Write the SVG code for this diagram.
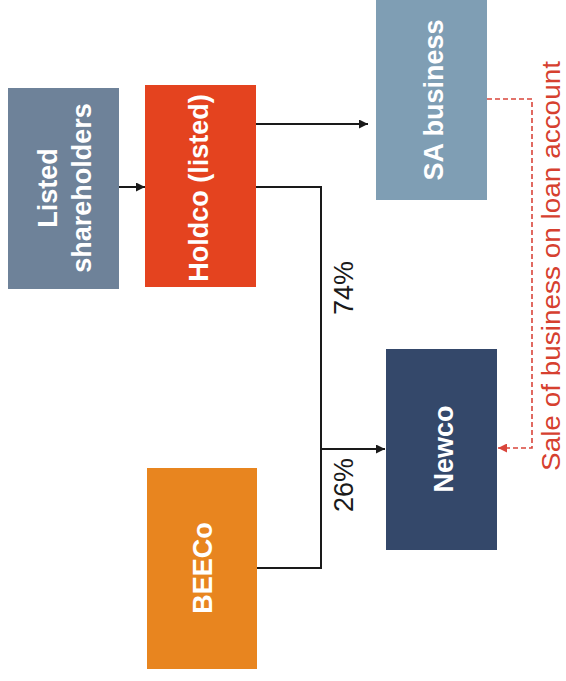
<svg xmlns="http://www.w3.org/2000/svg" width="566" height="681" viewBox="0 0 566 681">
<defs>
<marker id="ab" viewBox="0 0 10 10" refX="10" refY="5" markerWidth="10" markerHeight="9" markerUnits="userSpaceOnUse" orient="auto"><path d="M0,0 L10,5 L0,10 z" fill="#1a1a1a"/></marker>
<marker id="ar" viewBox="0 0 10 10" refX="10" refY="5" markerWidth="9" markerHeight="9" markerUnits="userSpaceOnUse" orient="auto"><path d="M0,0 L10,5 L0,10 z" fill="#d9453b"/></marker>
<style>
.lbl{font-family:"Liberation Sans",Arial,sans-serif;font-weight:bold;font-size:27px;fill:#ffffff;text-anchor:middle}
.pct{font-family:"Liberation Sans",Arial,sans-serif;font-size:27px;fill:#1a1a1a;text-anchor:middle}
.conn{fill:none;stroke:#1a1a1a;stroke-width:2}
.dash{fill:none;stroke:#d9453b;stroke-width:1.6;stroke-dasharray:5,3}
</style>
</defs>
<rect width="566" height="681" fill="#ffffff"/>
<g id="listed-shareholders">
<rect x="8" y="88" width="111" height="201" fill="#6e8299"/>
<text class="lbl" transform="translate(57,188) rotate(-90)">Listed</text>
<text class="lbl" transform="translate(91,188) rotate(-90)">shareholders</text>
</g>
<g id="holdco">
<rect x="145" y="85" width="111" height="202" fill="#e4431f"/>
<text class="lbl" transform="translate(208,188) rotate(-90)">Holdco (listed)</text>
</g>
<g id="sa-business">
<rect x="376" y="0" width="111" height="200" fill="#7f9eb4"/>
<text class="lbl" transform="translate(443,100) rotate(-90)">SA business</text>
</g>
<g id="newco">
<rect x="386" y="349" width="111" height="201" fill="#34486a"/>
<text class="lbl" transform="translate(453,449) rotate(-90)">Newco</text>
</g>
<g id="beeco">
<rect x="147" y="468" width="110" height="201" fill="#e8851f"/>
<text class="lbl" transform="translate(212,568) rotate(-90)">BEECo</text>
</g>
<g id="connectors">
<line class="conn" x1="119" y1="187" x2="145" y2="187" marker-end="url(#ab)"/>
<line class="conn" x1="256" y1="124" x2="368" y2="124" marker-end="url(#ab)"/>
<polyline class="conn" points="256,187 321,187 321,568 257,568"/>
<line class="conn" x1="321" y1="449" x2="385" y2="449" marker-end="url(#ab)"/>
<polyline class="dash" points="487,99 532,99 532,448 498,448" marker-end="url(#ar)"/>
<text class="pct" transform="translate(353,288) rotate(-90)">74%</text>
<text class="pct" transform="translate(353,485) rotate(-90)">26%</text>
<text transform="translate(560,266) rotate(-90)" font-family="'Liberation Sans',Arial,sans-serif" font-size="26" fill="#d6402f" text-anchor="middle" textLength="410" lengthAdjust="spacingAndGlyphs">Sale of business on loan account</text>
</g>
</svg>
